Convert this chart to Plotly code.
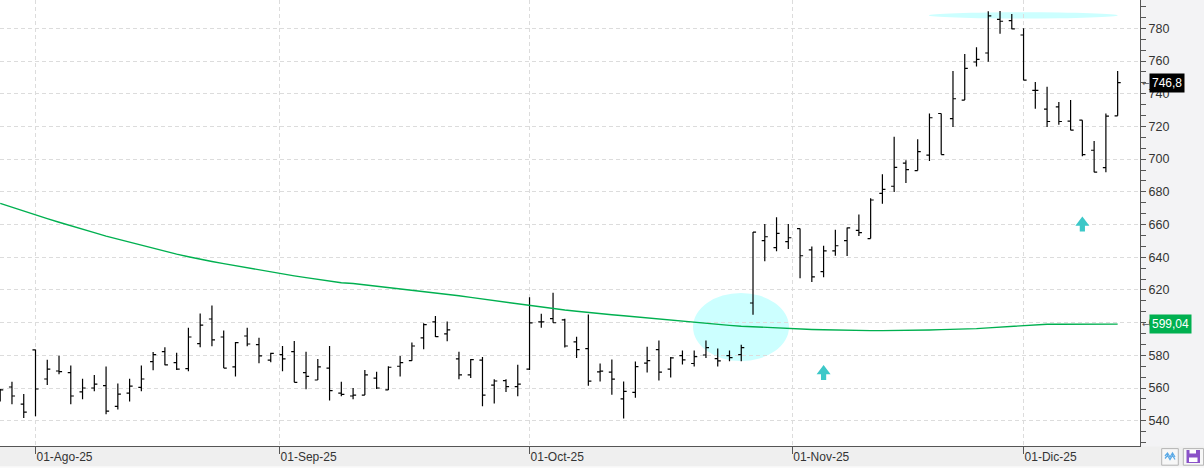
import pandas as pd
import plotly.graph_objects as go

# ---------------- data ----------------
HOLIDAYS = ["2025-09-01", "2025-11-27"]
dates = [d for d in pd.bdate_range("2025-07-29", "2025-12-11")
         if d.strftime("%Y-%m-%d") not in HOLIDAYS]

open_ = [558.0, 560.6, 550.2, 583.3, 565.5, 570.4, 569.4, 557.6, 560.0, 561.4,
         548.8, 556.9, 560.4, 576.1, 582.2, 575.5, 571.8, 587.1, 602.2, 591.2,
         572.9, 591.8, 586.5, 577.1, 580.4, 582.2, 569.4, 564.9, 572.2, 556.9,
         555.1, 555.7, 566.1, 558.8, 573.3, 576.7, 590.6, 600.4, 593.1, 577.8,
         568.0, 577.1, 561.8, 564.5, 560.8, 571.6, 600.5, 602.4, 601.7, 588.2,
         584.1, 569.9, 569.7, 553.3, 557.3, 575.2, 583.5, 571.5, 579.8, 575.0,
         580.2, 578.0, 579.8, 580.4, 612.0, 650.1, 645.8, 649.5, 657.5, 644.5,
         631.2, 643.9, 650.1, 656.4, 651.4, 679.1, 683.4, 697.5, 693.0, 702.4,
         727.9, 724.8, 736.1, 759.4, 764.9, 785.5, 784.7, 775.9, 742.0, 730.6,
         732.0, 723.2, 723.8, 705.4, 694.8, 726.5]
high = [559.4, 563.9, 556.3, 583.6, 577.3, 579.8, 573.7, 565.7, 568.0, 573.1,
        562.7, 565.7, 573.7, 582.0, 584.9, 581.6, 596.9, 605.5, 610.4, 595.1,
        588.2, 596.9, 590.8, 581.6, 585.7, 588.8, 582.2, 577.8, 585.7, 563.9,
        560.0, 571.0, 570.0, 573.3, 579.6, 587.8, 599.6, 604.1, 600.6, 582.2,
        577.8, 579.0, 565.3, 565.3, 574.3, 615.5, 605.4, 618.2, 602.4, 591.4,
        605.0, 575.0, 577.4, 564.0, 576.2, 585.3, 589.0, 579.0, 582.9, 582.9,
        589.0, 584.1, 582.9, 586.5, 655.4, 660.3, 664.4, 660.3, 657.5, 646.6,
        647.0, 656.8, 658.1, 666.1, 676.0, 690.7, 713.6, 699.3, 712.2, 727.9,
        727.9, 753.9, 764.3, 768.4, 790.4, 790.6, 788.8, 780.0, 747.1, 744.2,
        734.9, 736.1, 723.8, 711.0, 727.9, 753.9]
low = [551.8, 550.0, 541.6, 542.7, 561.8, 568.4, 550.0, 553.1, 558.0, 543.9,
       546.9, 551.8, 558.0, 570.8, 573.9, 571.0, 570.2, 584.9, 585.5, 572.2,
       567.1, 585.5, 575.1, 575.7, 570.2, 563.5, 559.2, 564.9, 552.4, 554.9,
       553.1, 555.7, 559.4, 558.8, 567.1, 576.7, 583.7, 591.2, 588.6, 565.3,
       566.1, 548.8, 550.6, 557.6, 554.9, 571.0, 596.9, 599.9, 584.7, 578.4,
       561.4, 564.0, 555.9, 541.3, 554.1, 569.5, 564.6, 566.4, 574.4, 573.1,
       578.4, 573.1, 576.4, 576.4, 604.8, 637.6, 643.7, 645.0, 627.1, 624.9,
       627.7, 640.9, 640.7, 653.0, 651.4, 672.7, 679.9, 685.4, 693.0, 698.9,
       702.8, 719.7, 736.1, 756.7, 759.6, 776.7, 779.4, 748.3, 730.8, 719.7,
       721.0, 717.7, 701.8, 692.0, 692.0, 726.5]
close = [558.8, 555.1, 545.3, 559.4, 571.6, 570.0, 555.1, 560.0, 562.4, 545.9,
         556.3, 561.2, 565.5, 580.4, 574.1, 571.6, 591.2, 598.4, 589.4, 572.2,
         587.8, 586.9, 579.6, 581.2, 577.8, 563.5, 567.1, 572.9, 558.4, 556.1,
         555.7, 568.0, 560.0, 572.7, 575.5, 585.7, 598.8, 591.4, 595.5, 568.0,
         577.3, 555.7, 564.3, 560.8, 562.4, 599.8, 600.5, 599.9, 585.7, 583.5,
         564.2, 570.3, 565.4, 557.9, 573.1, 576.8, 569.7, 578.4, 577.2, 579.2,
         584.7, 576.6, 578.6, 584.7, 655.4, 652.5, 654.6, 651.9, 640.9, 628.0,
         643.9, 647.0, 657.9, 655.0, 675.0, 681.5, 695.0, 693.6, 704.6, 725.3,
         702.8, 736.9, 755.5, 761.0, 787.6, 784.3, 779.6, 748.3, 742.0, 723.0,
         723.0, 717.7, 702.8, 692.0, 726.3, 746.8]
ma200 = [672.9, 670.5, 668.0, 665.6, 663.6, 661.4, 659.4, 657.2, 655.0, 652.9,
         651.0, 649.1, 647.3, 645.4, 643.6, 641.9, 640.3, 638.7, 637.4, 636.1,
         634.8, 633.6, 632.4, 631.0, 629.9, 628.6, 627.5, 626.4, 625.4, 624.4,
         623.9, 623.1, 622.4, 621.6, 620.8, 619.9, 619.1, 618.2, 617.3, 616.4,
         615.4, 614.4, 613.3, 612.3, 611.3, 610.4, 609.5, 608.6, 607.7, 606.9,
         606.1, 605.5, 604.8, 604.2, 603.5, 602.9, 602.3, 601.5, 600.8, 600.1,
         599.5, 598.9, 598.3, 597.8, 597.4, 597.0, 596.6, 596.4, 596.1, 595.8,
         595.6, 595.4, 595.3, 595.2, 595.1, 595.1, 595.1, 595.2, 595.3, 595.5,
         595.7, 595.8, 596.0, 596.3, 596.8, 597.3, 597.8, 598.4, 598.8, 599.0,
         599.0, 599.0, 599.0, 599.0, 599.0, 599.04]

month_starts = ["2025-08-01", "2025-09-01", "2025-10-01", "2025-11-01", "2025-12-01"]
month_labels = ["01-Ago-25", "01-Sep-25", "01-Oct-25", "01-Nov-25", "01-Dic-25"]
last_price_label = "746,8"
ma_label = "599,04"
y_ticks = [540, 560, 580, 600, 620, 640, 660, 680, 700, 720, 740, 760, 780]

# ---------------- helpers ----------------
x = list(range(len(dates)))


def date_pos(ds):
    """Position of a calendar date on the trading-day axis."""
    t = pd.Timestamp(ds)
    for i, d in enumerate(dates):
        if d == t:
            return float(i)
        if d > t:
            prev = dates[i - 1]
            return (i - 1) + (t - prev).days / (d - prev).days
    return float(len(dates) - 1)


tick_pos = [date_pos(m) for m in month_starts]

W, H = 1140.0, 446.0  # plot area in px
BLACK = "#000000"
GREEN = "#00B050"
CYAN_FILL = "#CCFFFF"
ARROW = "#3CC8C8"
FONT = "Liberation Sans, Arial, sans-serif"


def P(xp, yp):
    return f"{xp / W:.5f},{(H - yp) / H:.5f}"


def path(points, close_path=False):
    s = "M" + " L".join(P(a, b) for a, b in points)
    return s + (" Z" if close_path else "")


fig = go.Figure()
fig.add_trace(go.Ohlc(
    x=x, open=open_, high=high, low=low, close=close,
    increasing=dict(line=dict(color=BLACK, width=1.2)),
    decreasing=dict(line=dict(color=BLACK, width=1.2)),
    tickwidth=0.26, hoverinfo="skip", showlegend=False))
fig.add_trace(go.Scatter(
    x=x, y=ma200, mode="lines", line=dict(color=GREEN, width=1.4),
    hoverinfo="skip", showlegend=False))

shapes = []
# highlight ellipses
shapes.append(dict(type="circle", xref="x", yref="y", x0=58.9, x1=67.06,
                   y0=576.5, y1=618.1, fillcolor=CYAN_FILL,
                   line=dict(width=0), layer="below"))
shapes.append(dict(type="circle", xref="x", yref="y", x0=78.95, x1=95.0,
                   y0=786.0, y1=789.8, fillcolor=CYAN_FILL,
                   line=dict(width=0), layer="below"))
# up arrows (pixel sized, anchored on data)
arrow_path = "M-7,-1.8 L0,7.5 L7,-1.8 L2.6,-1.8 L2.6,-7.5 L-2.6,-7.5 L-2.6,-1.8 Z"
for ax_, ay_ in [(70.0, 569.5), (92.0, 660.3)]:
    shapes.append(dict(type="path", xref="x", yref="y", xsizemode="pixel",
                       ysizemode="pixel", xanchor=ax_, yanchor=ay_,
                       path=arrow_path, fillcolor=ARROW, line=dict(width=0),
                       layer="above"))
# bottom band
shapes.append(dict(type="rect", xref="paper", yref="paper",
                   x0=0, x1=1204 / W, y0=(H - 468) / H, y1=(H - 446.6) / H,
                   fillcolor="#EFEFEF", line=dict(width=0), layer="below"))
shapes.append(dict(type="rect", xref="paper", yref="paper",
                   x0=0, x1=1204 / W, y0=(H - 468) / H, y1=(H - 466.3) / H,
                   fillcolor="#FAFAFA", line=dict(width=0), layer="below"))
# buttons bottom-right
for bx0, bx1 in [(1161.7, 1178.3), (1183.3, 1203.6)]:
    shapes.append(dict(type="rect", xref="paper", yref="paper",
                       x0=bx0 / W, x1=bx1 / W, y0=(H - 465.2) / H, y1=(H - 448.6) / H,
                       fillcolor="#F7F7F7", line=dict(color="#B4B4B4", width=1),
                       layer="above"))
for off in (0, 2.5):
    shapes.append(dict(type="path", xref="paper", yref="paper",
                       path=path([(1165, 456 + off), (1167.5, 453 + off), (1170, 457 + off),
                                  (1172.5, 453 + off), (1175, 457 + off)]),
                       line=dict(color="#5AA9E6", width=1.2), layer="above"))
shapes.append(dict(type="rect", xref="paper", yref="paper",
                   x0=1186.5 / W, x1=1200 / W, y0=(H - 463) / H, y1=(H - 450) / H,
                   fillcolor="#8A52C8", line=dict(width=0), layer="above"))
shapes.append(dict(type="rect", xref="paper", yref="paper",
                   x0=1189 / W, x1=1197.5 / W, y0=(H - 462) / H, y1=(H - 457.5) / H,
                   fillcolor="#FFFFFF", line=dict(width=0), layer="above"))
shapes.append(dict(type="rect", xref="paper", yref="paper",
                   x0=1189.5 / W, x1=1196 / W, y0=(H - 453.5) / H, y1=(H - 450) / H,
                   fillcolor="#FFFFFF", line=dict(width=0), layer="above"))

annotations = []
for yv, txt, bg in [(746.8, last_price_label, "#000000"), (599.04, ma_label, GREEN)]:
    annotations.append(dict(xref="paper", yref="y", x=1, y=yv, xanchor="left",
                            yanchor="middle", xshift=9, text=txt, showarrow=False,
                            bgcolor=bg, borderpad=2,
                            font=dict(family=FONT, size=12, color="#FFFFFF")))
    annotations.append(dict(xref="paper", yref="y", x=1, y=yv, xanchor="left",
                            yanchor="middle", xshift=0, text="←", showarrow=False,
                            font=dict(family="DejaVu Sans", size=9, color="#555555")))
annotations.append(dict(xref="paper", yref="paper", x=1, y=1 + 4.4 / H,
                        xanchor="left", yanchor="middle", xshift=10, text="800",
                        showarrow=False,
                        font=dict(family=FONT, size=12, color="#333333")))

fig.update_layout(
    width=1204, height=468,
    margin=dict(l=0, r=64, t=0, b=22, pad=0),
    paper_bgcolor="#F3F3F5", plot_bgcolor="#FFFFFF",
    showlegend=False, shapes=shapes, annotations=annotations,
    font=dict(family=FONT, size=12, color="#333333"),
    xaxis=dict(range=[-0.018, 96.9], rangeslider=dict(visible=False),
               tickmode="array", tickvals=tick_pos, ticktext=month_labels,
               ticks="outside", ticklen=7, tickcolor="#555555", tickwidth=1,
               ticklabelposition="outside right",
               showgrid=True, gridcolor="#DCDCDC", griddash="4px,3px", gridwidth=1,
               showline=True, linecolor="#555555", linewidth=1, zeroline=False,
               tickfont=dict(size=12, color="#333333")),
    yaxis=dict(range=[524.53, 797.31], side="right", tickmode="array",
               tickvals=y_ticks, ticks="outside", ticklen=5, tickcolor="#555555",
               showgrid=True, gridcolor="#DCDCDC", griddash="4px,3px", gridwidth=1,
               showline=True, linecolor="#555555", linewidth=1, zeroline=False,
               tickfont=dict(size=12.5, color="#333333"),
               minor=dict(tickmode="linear", tick0=540, dtick=20 / 3, ticks="outside",
                          ticklen=5, tickcolor="#555555", showgrid=False)),
)

fig.write_html("out.html", config={"displayModeBar": False})
